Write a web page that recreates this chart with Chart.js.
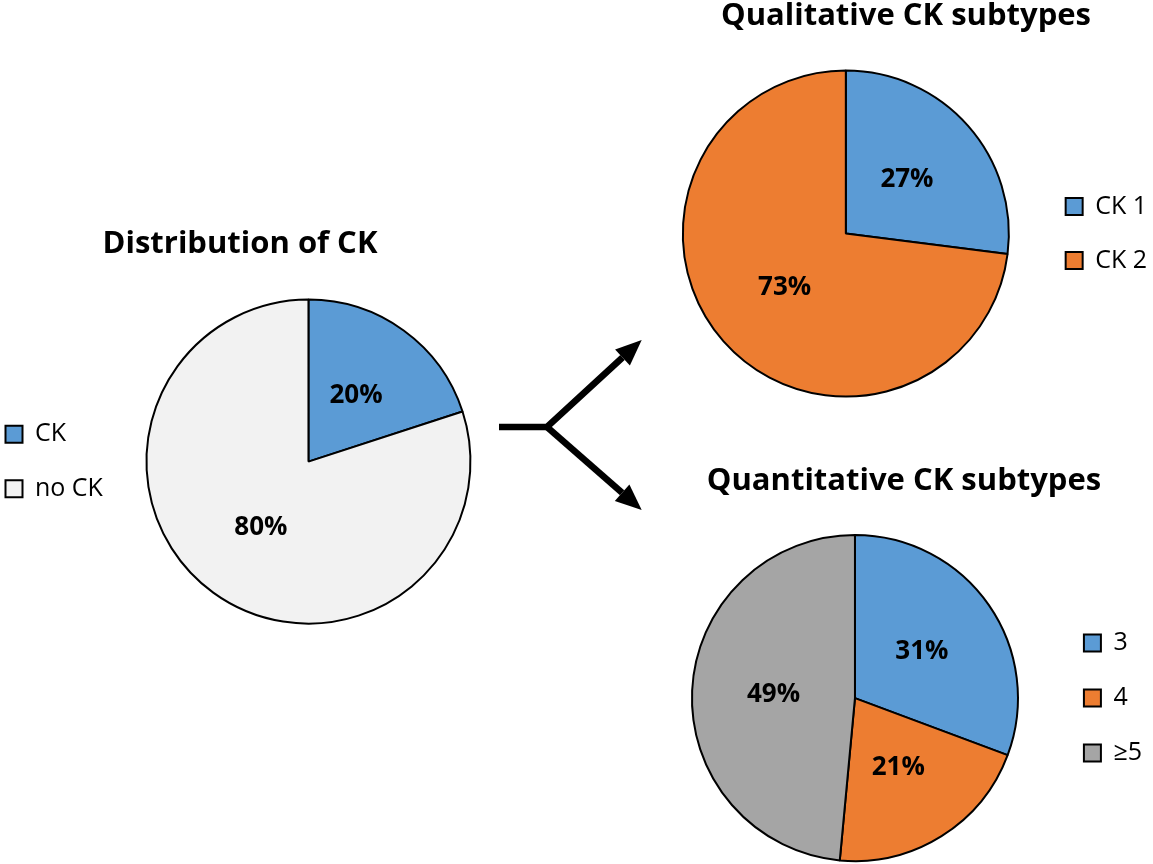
<!DOCTYPE html>
<html><head><meta charset="utf-8">
<script src="https://cdn.jsdelivr.net/npm/chart.js@4.4.1/dist/chart.umd.min.js"></script>
<style>
html,body{margin:0;padding:0;background:#fff;overflow:hidden;width:1153px;height:864px;position:relative;}
canvas{position:absolute;}
svg{position:absolute;left:0;top:0;}
</style></head><body>
<canvas id="cA" width="528" height="414" style="left:-24px;top:226px"></canvas>
<canvas id="cB" width="502" height="410" style="left:655px;top:-2px"></canvas>
<canvas id="cC" width="496" height="401" style="left:656px;top:463px"></canvas>
<svg width="1153" height="864">
  <polyline points="499,427 547,427 622.5,357.5" fill="none" stroke="#000" stroke-width="6.5" stroke-linejoin="miter"/>
  <polyline points="547,427 622.1,492.8" fill="none" stroke="#000" stroke-width="6.5"/>
  <polygon points="641.7,340 629.9,365.6 615.1,349.4" fill="#000"/>
  <polygon points="641.7,510 614.8,501.1 629.4,484.5" fill="#000"/>
</svg>
<script>
// ---- data ----
const distTitle = 'Distribution of CK';
const distLabels = ['CK', 'no CK'];
const distValues = [20, 80];

const qualTitle = 'Qualitative CK subtypes';
const qualLabels = ['CK 1', 'CK 2'];
const qualValues = [27, 73];

const quantTitle = 'Quantitative CK subtypes';
const quantLabels = ['3', '4', '\u22655'];
const quantValues = [31, 21, 49];

const BLUE = '#5B9BD5', ORANGE = '#ED7D31', GRAY = '#A5A5A5', LIGHT = '#F2F2F2';

Chart.defaults.font.family = '"Open Sans", sans-serif';
Chart.defaults.color = '#000';

const pctLabels = {
  id: 'pctLabels',
  afterDatasetsDraw(chart) {
    const ctx = chart.ctx;
    const meta = chart.getDatasetMeta(0);
    const vals = chart.data.datasets[0].data;
    ctx.save();
    ctx.font = 'bold 26px "Open Sans"';
    ctx.fillStyle = '#000';
    ctx.textAlign = 'center';
    ctx.textBaseline = 'middle';
    meta.data.forEach((arc, i) => {
      const p = arc.tooltipPosition();
      ctx.fillText(vals[i] + '%', p.x, p.y);
    });
    ctx.restore();
  }
};

function makePie(id, title, labels, values, colors, opt) {
  return new Chart(document.getElementById(id), {
    type: 'pie',
    data: {
      labels: labels,
      datasets: [{
        data: values,
        backgroundColor: colors,
        borderColor: '#000',
        borderWidth: 2,
        radius: opt.radius,
        hoverOffset: 0
      }]
    },
    options: {
      responsive: false,
      animation: false,
      events: [],
      layout: { padding: 0 },
      plugins: {
        title: {
          display: true,
          text: title,
          color: '#000',
          font: { size: 31, weight: 'bold' },
          padding: { top: 0, bottom: opt.titlePad }
        },
        legend: {
          position: opt.legendPos,
          fullSize: false,
          labels: {
            boxWidth: 17,
            boxHeight: 17,
            padding: opt.legendPad,
            color: '#000',
            font: { size: 25 }
          }
        },
        tooltip: { enabled: false }
      }
    },
    plugins: [pctLabels]
  });
}

makePie('cA', distTitle, distLabels, distValues, [BLUE, LIGHT],
  { radius: 162, titlePad: 20, legendPos: 'left', legendPad: 29.5 });
makePie('cB', qualTitle, qualLabels, qualValues, [BLUE, ORANGE],
  { radius: 163, titlePad: 24, legendPos: 'right', legendPad: 29 });
makePie('cC', quantTitle, quantLabels, quantValues, [BLUE, ORANGE, GRAY],
  { radius: 163, titlePad: 32, legendPos: 'right', legendPad: 30 });
</script>
</body></html>
